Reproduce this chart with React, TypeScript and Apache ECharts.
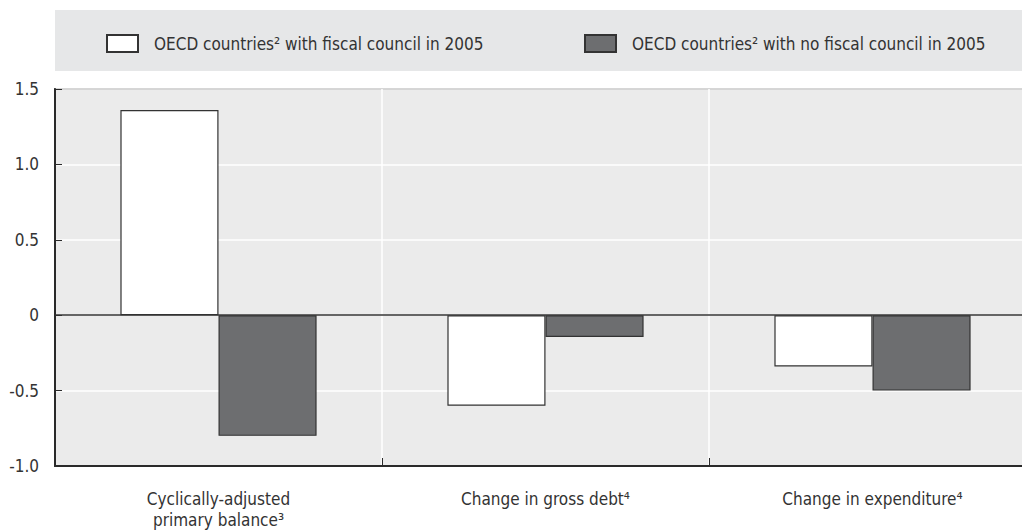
import React, { useEffect, useRef } from "react";
import * as echarts from "echarts";

const categories = [
  "Cyclically-adjusted\nprimary balance³",
  "Change in gross debt⁴",
  "Change in expenditure⁴",
];
const seriesNames = [
  "OECD countries² with fiscal council in 2005",
  "OECD countries² with no fiscal council in 2005",
];
const withCouncil = [1.36, -0.6, -0.34];
const noCouncil = [-0.8, -0.145, -0.5];
const yMin = -1.0;
const yMax = 1.5;
const yStep = 0.5;

const FONT = "'DejaVu Sans Condensed', 'Liberation Sans Narrow', sans-serif";
const TEXT = "#333333";
const FS = 17;

export default function App() {
  const ref = useRef<HTMLDivElement>(null);
  useEffect(() => {
    if (!ref.current) return;
    const chart = echarts.init(ref.current, undefined, { renderer: "svg" });
    chart.setOption({
      animation: false,
      textStyle: { fontFamily: FONT, color: TEXT },
      graphic: [
        {
          type: "rect",
          left: 55,
          top: 10,
          shape: { width: 967, height: 61 },
          style: { fill: "#e6e7e8" },
          z: -10,
          silent: true,
        },
      ],
      legend: [
        {
          data: [seriesNames[0]],
          left: 101,
          top: 29,
          itemWidth: 31,
          itemHeight: 17,
          itemGap: 0,
          icon: "rect",
          textStyle: { fontFamily: FONT, fontSize: FS, color: TEXT, padding: [0, 0, 0, 11] },
          selectedMode: false,
        },
        {
          data: [seriesNames[1]],
          left: 579,
          top: 29,
          itemWidth: 31,
          itemHeight: 17,
          itemGap: 0,
          icon: "rect",
          textStyle: { fontFamily: FONT, fontSize: FS, color: TEXT, padding: [0, 0, 0, 11] },
          selectedMode: false,
        },
      ],
      grid: {
        left: 55,
        top: 89,
        width: 981,
        height: 378,
        show: true,
        backgroundColor: "#ebebeb",
        borderColor: "#2a2a2a",
        borderWidth: 1.5,
        containLabel: false,
      },
      xAxis: {
        type: "category",
        data: categories,
        boundaryGap: true,
        axisLine: { show: true, onZero: false, lineStyle: { color: "#2a2a2a", width: 2 } },
        axisTick: { show: true, inside: true, length: 8, lineStyle: { color: "#2a2a2a", width: 1 } },
        splitLine: { show: true, lineStyle: { color: "#ffffff", width: 1.5 } },
        axisLabel: {
          fontFamily: FONT,
          fontSize: FS,
          color: TEXT,
          margin: 22,
          lineHeight: 21,
          interval: 0,
        },
      },
      yAxis: {
        type: "value",
        min: yMin,
        max: yMax,
        interval: yStep,
        axisLine: { show: true, lineStyle: { color: "#2a2a2a", width: 2 } },
        axisTick: { show: true, inside: true, length: 7, lineStyle: { color: "#2a2a2a", width: 1 } },
        splitLine: { show: true, lineStyle: { color: "#ffffff", width: 1.5 } },
        axisLabel: {
          fontFamily: FONT,
          fontSize: FS,
          color: TEXT,
          margin: 16,
          formatter: (v: number) => (v === 0 ? "0" : v.toFixed(1)),
        },
      },
      series: [
        {
          name: seriesNames[0],
          type: "bar",
          data: withCouncil,
          barGap: "0%",
          barCategoryGap: "40%",
          itemStyle: { color: "#ffffff", borderColor: "#333333", borderWidth: 1.2 },
          markLine: {
            silent: true,
            symbol: "none",
            label: { show: false },
            lineStyle: { color: "#333333", width: 1.5, type: "solid" },
            data: [{ yAxis: 0 }],
          },
        },
        {
          name: seriesNames[1],
          type: "bar",
          data: noCouncil,
          barGap: "0%",
          barCategoryGap: "40%",
          itemStyle: { color: "#6d6e70", borderColor: "#333333", borderWidth: 1.2 },
        },
      ],
    });
    return () => chart.dispose();
  }, []);
  return (
    <div
      style={{ position: "absolute", left: 0, top: 0, width: 1022, height: 530, overflow: "hidden", background: "#ffffff" }}
    >
      <div ref={ref} style={{ position: "absolute", left: 0, top: 0, width: 1040, height: 530 }} />
    </div>
  );
}
